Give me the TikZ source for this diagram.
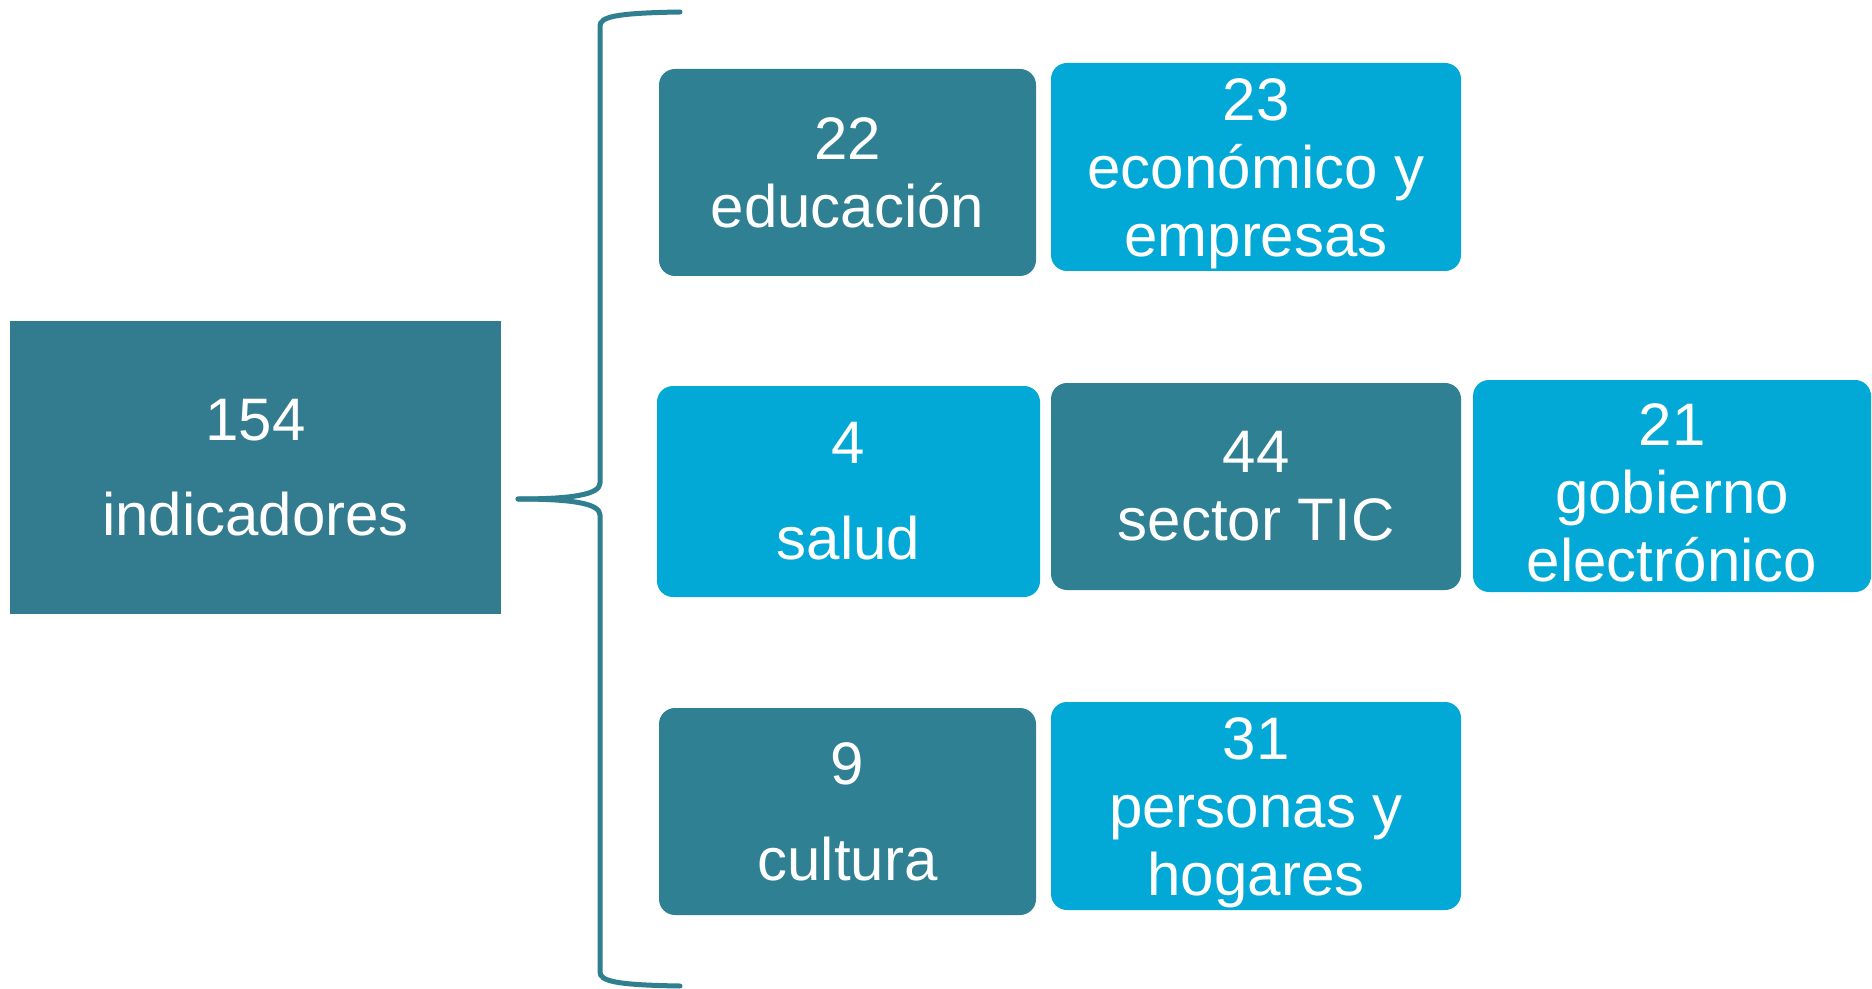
\documentclass[tikz,border=0pt]{standalone}
\usepackage{fontspec}
\setmainfont{Liberation Sans}
\definecolor{darkteal}{RGB}{46,128,146}
\definecolor{mainteal}{RGB}{51,124,144}
\definecolor{lightblue}{RGB}{2,169,214}
\definecolor{bracecol}{RGB}{47,127,145}
\newcommand{\lowerstrut}{\rule{0pt}{27.5pt}}
\tikzset{
  x=0.5pt, y=-0.5pt,
  txt/.style={text=white, align=center, inner sep=0pt, font=\fontsize{30}{34}\selectfont},
  catbox/.style={rounded corners=8pt, inner sep=0pt, txt},
  darkbox/.style={catbox, fill=darkteal},
  lightbox/.style={catbox, fill=lightblue},
  mainbox/.style={fill=mainteal, inner sep=0pt, txt},
  bracestyle/.style={draw=bracecol, line width=2.5pt, line cap=round}
}
\begin{document}
\begin{tikzpicture}
\useasboundingbox (0,0) rectangle (1872,989);
% main box
\node[mainbox, minimum width=245.5pt, minimum height=146.5pt] (main) at (255.5,467.5) {154\\[13.5pt]indicadores};
% row 1
\node[darkbox, minimum width=188.5pt, minimum height=103.5pt] (edu) at (847.5,172.5) {22\\educación};
\node[lightbox, minimum width=205pt, minimum height=104pt] (eco) at (1256,167) {\lowerstrut 23\\económico y\\empresas};
% row 2
\node[lightbox, minimum width=191.5pt, minimum height=105.5pt] (sal) at (848.5,491.5) {4\\[14pt]salud};
\node[darkbox, minimum width=205pt, minimum height=103.5pt] (tic) at (1256,486.5) {44\\sector TIC};
\node[lightbox, minimum width=199pt, minimum height=106pt] (gob) at (1672,486) {\lowerstrut 21\\gobierno\\electrónico};
% row 3
\node[darkbox, minimum width=188.5pt, minimum height=103.5pt] (cul) at (847.5,811.5) {9\\[14pt]cultura};
\node[lightbox, minimum width=205pt, minimum height=104pt] (per) at (1256,806) {\lowerstrut 31\\personas y\\hogares};
% brace
\coordinate (btop) at (680,12);
\coordinate (tip) at (518,499);
\coordinate (bbot) at (680,986);
\draw[bracestyle] (btop) .. controls (615,13) and (600,17) .. (600,26) -- (600,483)
  .. controls (600,494) and (575,499) .. (tip);
\draw[bracestyle] (tip) .. controls (575,499) and (600,504) .. (600,515) -- (600,972)
  .. controls (600,981) and (615,985) .. (bbot);
\end{tikzpicture}
\end{document}
